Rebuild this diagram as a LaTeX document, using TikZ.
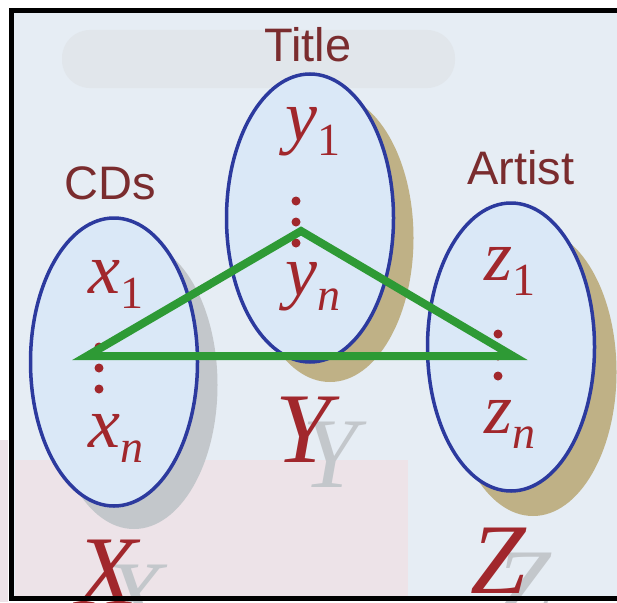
\documentclass[tikz,border=0pt]{standalone}
\usepackage{fontspec}
\setmainfont{Liberation Serif}
\newfontfamily\labelfont{Liberation Sans}
\usetikzlibrary{shapes.geometric}

\definecolor{paneblue}{HTML}{E6EDF4}
\definecolor{panepink}{HTML}{EDE3E8}
\definecolor{panesmudge}{HTML}{E1E6EB}
\definecolor{setblue}{HTML}{2C3A9E}
\definecolor{setfill}{HTML}{DAE8F7}
\definecolor{shadegray}{HTML}{C3C7CB}
\definecolor{shadekhaki}{HTML}{BFB186}
\definecolor{namered}{HTML}{7A2C2E}
\definecolor{elemred}{HTML}{A1272C}
\definecolor{linkgreen}{HTML}{2E9A35}

% element with subscript
\newcommand{\elemvar}[2]{\textit{#1}\raisebox{-15pt}{\fontsize{46}{46}\selectfont #2}}

\begin{document}
\begin{tikzpicture}[x=1pt, y=-1pt,
	set/.style = {ellipse, draw=setblue, line width=3.5pt, fill=setfill,
			inner sep=0pt, minimum width=167pt, minimum height=288pt},
	setshade/.style = {ellipse, inner sep=0pt,
			minimum width=167pt, minimum height=288pt},
	colname/.style = {text=namered, inner sep=0pt,
			font=\labelfont\fontsize{47}{47}\selectfont},
	elem/.style = {text=elemred, anchor=base, inner sep=0pt,
			font=\fontsize{72}{72}\selectfont},
	bigvar/.style = {anchor=base, inner sep=0pt,
			font=\fontsize{100}{100}\selectfont\itshape},
	elemdot/.style = {circle, fill=elemred, inner sep=0pt, minimum size=9pt},
	link/.style = {draw=linkgreen, line width=8pt}
]
\useasboundingbox (0,0) rectangle (617,602);

% pane
\fill[paneblue] (11,11) rectangle (630,598);
\fill[panepink] (15,460) rectangle (408,598);
\fill[panepink] (0,440) rectangle (8,602);
\fill[panesmudge, rounded corners=28pt] (62,30) rectangle (455,88);

% shadows
\node[setshade, fill=shadegray] (xshade) at (134,385) {};
\node[setshade, fill=shadekhaki] (yshade) at (330,238) {};
\node[setshade, fill=shadekhaki] (zshade) at (533,372) {};

% the three sets
\node[set] (xset) at (114,362) {};
\node[set] (yset) at (310,218) {};
\node[set] (zset) at (511,347) {};

% column names
\node[colname] (xname) at (110,183) {CDs};
\node[colname] (yname) at (308,45) {Title};
\node[colname] (zname) at (521,168) {Artist};

% elements
\node[elem] (x1) at (116,293) {\elemvar{x}{1}};
\node[elem] (xn) at (116,447) {\elemvar{x}{\itshape n}};
\node[elem] (y1) at (313,140) {\elemvar{y}{1}};
\node[elem] (yn) at (313,295) {\elemvar{y}{\itshape n}};
\node[elem] (z1) at (510,280) {\elemvar{z}{1}};
\node[elem] (zn) at (510,433) {\elemvar{z}{\itshape n}};

\foreach \ypos [count=\i] in {347,368,389} {
	\node[elemdot] (xdot\i) at (99,\ypos) {};
}
\foreach \ypos [count=\i] in {201,222,243} {
	\node[elemdot] (ydot\i) at (296,\ypos) {};
}
\foreach \ypos [count=\i] in {334,356,376} {
	\node[elemdot] (zdot\i) at (498,\ypos) {};
}

% big variable names
\node[bigvar, text=shadegray] (xvarshade) at (134,630) {X};
\node[bigvar, text=elemred] (xvar) at (107,605) {X};
\node[bigvar, text=shadegray] (yvarshade) at (330,487) {Y};
\node[bigvar, text=elemred] (yvar) at (303,462) {Y};
\node[bigvar, text=shadegray] (zvarshade) at (523,618) {Z};
\node[bigvar, text=elemred] (zvar) at (498,593) {Z};

% the tuple
\coordinate (tx) at (87,356);
\coordinate (ty) at (301,231);
\coordinate (tz) at (513,356);
\draw[link] (tx) -- (ty) -- (tz) -- cycle;

% frame
\draw[line width=5pt] (11,11) rectangle (630,598);
\end{tikzpicture}
\end{document}
